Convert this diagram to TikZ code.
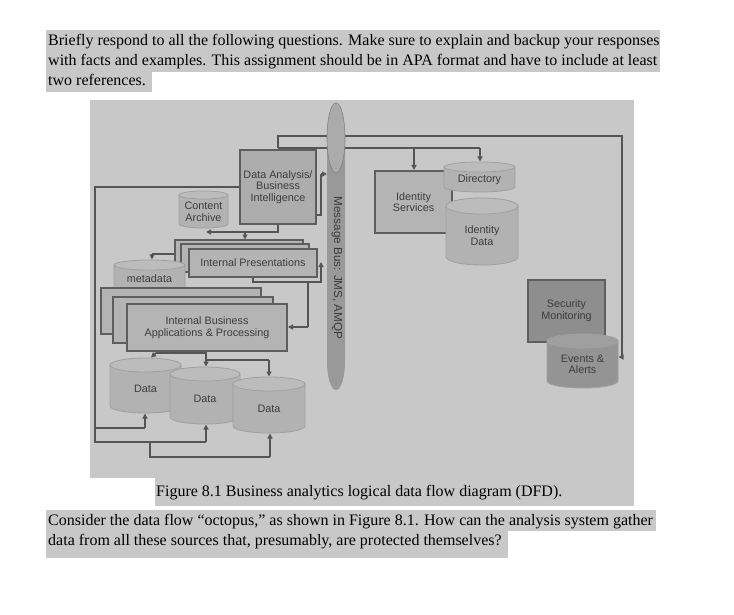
\documentclass[tikz,border=0pt]{standalone}
\usepackage{fontspec}
\setmainfont{Liberation Serif}
\newfontfamily\dsans{Liberation Sans}
\usetikzlibrary{arrows.meta}
\definecolor{hl}{HTML}{C8C8C8}
\definecolor{boxfill}{HTML}{B4B4B4}
\definecolor{dafill}{HTML}{ADADAD}
\definecolor{edge}{HTML}{5E5E5E}
\definecolor{wire}{HTML}{555555}
\definecolor{lbl}{HTML}{3C3C3C}
\definecolor{cylbody}{HTML}{B2B2B2}
\definecolor{cyltop}{HTML}{BCBCBC}
\definecolor{cylline}{HTML}{A0A0A0}
\definecolor{secfill}{HTML}{8E8E8E}
\definecolor{evbody}{HTML}{949494}
\definecolor{evtop}{HTML}{9F9F9F}
\definecolor{busbar}{HTML}{999999}
\definecolor{bustop}{HTML}{ABABAB}
\tikzset{
 body/.style={anchor=base west, inner sep=0, font=\fontsize{16}{19}\selectfont},
 dlabel/.style={font=\dsans\fontsize{10.8}{11.6}\selectfont, text=lbl, align=center},
 dbox/.style={draw=edge, line width=1.3pt, fill=boxfill, inner sep=0, dlabel},
 wireline/.style={draw=wire, line width=1.8pt},
 tip/.style={-{Triangle[length=5pt,width=5pt]}},
}
% name, x1, x2, ytop, ybot, ry, body fill, top fill, text
\newcommand\cylnode[9]{%
  \pgfmathsetmacro\cxa{(#2+#3)/2}%
  \pgfmathsetmacro\rxa{(#3-#2)/2}%
  \pgfmathsetmacro\yta{#4+#6}%
  \pgfmathsetmacro\yba{#5-#6}%
  \pgfmathsetmacro\ymid{(\yta+#5)/2}%
  \pgfmathsetmacro\hgt{#5-\yta}%
  \pgfmathsetmacro\wdt{#3-#2}%
  \path[fill=#7] (#2,\yta) -- (#2,\yba) arc[start angle=180,end angle=360,x radius=\rxa pt,y radius=#6pt] -- (#3,\yta) -- cycle;
  \draw[cylline, line width=0.8pt] (#2,\yta) -- (#2,\yba) arc[start angle=180,end angle=360,x radius=\rxa pt,y radius=#6pt] -- (#3,\yta);
  \draw[cylline, line width=0.8pt, fill=#8] (\cxa,\yta) ellipse[x radius=\rxa pt,y radius=#6pt];
  \node[dlabel, inner sep=0, minimum width=\wdt pt, minimum height=\hgt pt] (#1) at (\cxa,\ymid) {#9};
}
\begin{document}
\begin{tikzpicture}[x=1pt,y=-1pt]
\useasboundingbox (0,0) rectangle (734,615);
\fill[white] (0,0) rectangle (734,615);
% text highlights
\fill[hl] (46,30) rectangle (660,72);
\fill[hl] (46,72) rectangle (152,92);
\fill[hl] (90,100) rectangle (634,478);
\fill[hl] (155,478) rectangle (634,506);
\fill[hl] (46,510) rectangle (656,531);
\fill[hl] (46,531) rectangle (508,558);
% body text
\node[body] (t1) at (48,46) {Briefly respond to all the following questions. Make sure to explain and backup your responses};
\node[body] (t2) at (48,66) {with facts and examples. This assignment should be in APA format and have to include at least};
\node[body] (t3) at (48,86) {two references.};
\node[body] (cap) at (156,496) {Figure 8.1 Business analytics logical data flow diagram (DFD).};
\node[body] (q1) at (48,525) {Consider the data flow “octopus,” as shown in Figure 8.1. How can the analysis system gather};
\node[body] (q2) at (48,545) {data from all these sources that, presumably, are protected themselves?};

% ---------- connectors (drawn under the shapes) ----------
\coordinate (j1) at (278,136);
\coordinate (j2) at (622,136);
\coordinate (j3) at (278,148);
\coordinate (evin) at (618.5,357);
\draw[wireline] (j3) -- (j1) -- (j2) -- (622,357);
\draw[wireline, tip] (622,357) -- (evin);
\draw[wireline] (j3) -- (480,148);
\draw[wireline, tip] (414,148) -- (414,170);
\draw[wireline, tip] (480,148) -- (480,161.5);
% data analysis -> bus
\draw[wireline] (316,215) -- (321,215) -- (321,174);
\draw[wireline, tip] (321,174) -- (327,174);
% left loop
\draw[wireline] (240,187) -- (95,187) -- (95,442) -- (206,442);
\draw[wireline, tip] (206,442) -- (206,424.5);
\draw[wireline] (95,428) -- (145,428);
\draw[wireline, tip] (145,428) -- (145,413.5);
\draw[wireline] (150,442) -- (150,457) -- (270,457);
\draw[wireline, tip] (270,457) -- (270,433.5);
% DA -> content archive / presentations
\draw[wireline] (278,224) -- (278,232) -- (214,232);
\draw[wireline, tip] (214,232) -- (206,232);
\draw[wireline, tip] (245,232) -- (245,239.5);
% presentations -> bus, -> IBA
\draw[wireline] (253,277) -- (253,282) -- (321,282) -- (321,268);
\draw[wireline, tip] (321,268) -- (321,262);
\draw[wireline] (308,282) -- (308,327);
\draw[wireline, tip] (308,327) -- (288,327);
% presentations -> metadata
\draw[wireline] (175,254) -- (152,254);
\draw[wireline, tip] (152,254) -- (152,259.5);
% IBA -> data stores
\draw[wireline] (206,351) -- (206,353) -- (156,353);
\draw[wireline, tip] (156,353) -- (151,357.5);
\draw[wireline, tip] (206,353) -- (206,366.5);
\draw[wireline] (206,360) -- (269,360);
\draw[wireline, tip] (269,360) -- (269,376.5);

% ---------- message bus ----------
\path[fill=busbar] (327,140) -- (327,362) arc[start angle=180,end angle=360,x radius=9pt,y radius=28pt] -- (345,140) -- cycle;
\draw[fill=bustop, draw=busbar!85!black, line width=0.6pt] (336,138) ellipse[x radius=9pt, y radius=35pt];
\node[dlabel, rotate=-90, font=\dsans\fontsize{11.7}{13}\selectfont] (bus) at (337,268) {Message Bus: JMS, AMQP};

% ---------- shapes ----------
\node[dbox, fill=dafill, minimum width=76pt, minimum height=74pt] (da) at (278,187) {Data Analysis/\\Business\\Intelligence};
\cylnode{ca}{179}{228}{191}{228}{4}{cylbody}{cyltop}{Content\\Archive}
\node[dbox, minimum width=128pt, minimum height=28pt] (ip3) at (239,254) {};
\node[dbox, minimum width=128pt, minimum height=28pt] (ip2) at (245,258) {};
\node[dbox, minimum width=128pt, minimum height=28pt] (ip) at (253,263) {Internal Presentations};
\cylnode{meta}{114}{185}{260}{292}{5}{cylbody}{cyltop}{metadata}
\node[dbox, minimum width=160pt, minimum height=46pt] (iba3) at (181,311) {};
\node[dbox, minimum width=160pt, minimum height=46pt] (iba2) at (193,320) {};
\node[dbox, minimum width=160pt, minimum height=47pt] (iba) at (207,327.5) {Internal Business\\Applications \& Processing};
\cylnode{d1}{110}{181}{358}{413}{7}{cylbody}{cyltop}{Data}
\cylnode{d2}{170}{240}{367}{424}{7}{cylbody}{cyltop}{Data}
\cylnode{d3}{233}{305}{377}{433}{7}{cylbody}{cyltop}{Data}
\node[dbox, minimum width=77pt, minimum height=62pt] (ids) at (413.5,202) {Identity\\Services};
\cylnode{dir}{444}{515}{162}{192}{5}{cylbody}{cyltop}{Directory}
\cylnode{idd}{446}{518}{198}{265}{8}{cylbody}{cyltop}{Identity\\Data}
\node[dbox, fill=secfill, minimum width=77pt, minimum height=62pt] (sec) at (566.5,311) {Security\\Monitoring};
\cylnode{ev}{547}{618}{334}{388}{7}{evbody}{evtop}{Events \&\\Alerts}
\end{tikzpicture}
\end{document}
